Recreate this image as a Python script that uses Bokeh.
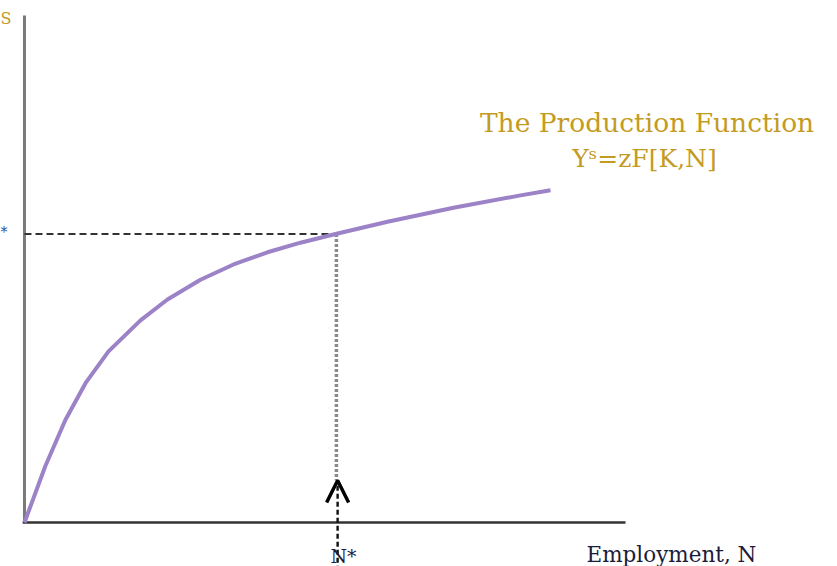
from bokeh.plotting import figure
from bokeh.models import Range1d, Arrow, OpenHead
from bokeh.core.properties import value
from bokeh.embed import file_html
from bokeh.resources import INLINE

# Production function curve, employment N vs output Y
curve_n = [0.000, 0.349, 0.682, 1.015, 1.398, 1.930, 2.379, 2.928, 3.478, 4.043,
           4.592, 5.175, 6.040, 7.138, 8.253, 8.752]
curve_y = [0.000, 1.118, 2.026, 2.748, 3.374, 3.986, 4.399, 4.789, 5.089, 5.330,
           5.519, 5.691, 5.933, 6.207, 6.452, 6.552]
n_star = 5.19
y_star = 5.69
x_axis_max = 10.0
y_axis_max = 10.0

p = figure(width=837, height=566, output_backend="svg", toolbar_location=None,
           x_range=Range1d(-0.399, 13.527), y_range=Range1d(-0.868, 10.296),
           x_axis_type=None, y_axis_type=None, min_border=0)
p.grid.visible = False
p.outline_line_color = None
p.background_fill_color = "white"

font = value("DejaVu Serif")

# axes drawn as lines
p.line([0, 0], [0, y_axis_max], line_color="#7a7a7a", line_width=3)
p.line([-0.03, x_axis_max], [0, 0], line_color="#333333", line_width=2.4)

# dashed guides
p.line([0, n_star], [y_star, y_star], line_color="#333333", line_width=2.2, line_dash="7 4")
p.line([n_star, n_star], [y_star, 0.83], line_color="#8a8a8a", line_width=3.5, line_dash="3 2")
p.line([n_star + 0.02, n_star + 0.02], [-0.95, 0.83], line_color="#111111", line_width=2.4, line_dash="5 3")

# arrow pointing up to N*
p.add_layout(Arrow(end=OpenHead(size=22, line_width=3.5, line_color="black"),
                   x_start=n_star + 0.02, y_start=0.2, x_end=n_star + 0.02, y_end=0.83,
                   line_width=0, line_alpha=0))

# production function
p.line(curve_n, curve_y, line_color="#9c82c6", line_width=4, line_join="round")

# labels
p.text(x=[10.358], y=[7.89], text=["The Production Function"], text_font=font,
       text_font_size="26.5px", text_color="#c49b22", text_align="center", text_baseline="alphabetic")
p.text(x=[10.316], y=[7.179], text=["Yˢ=zF[K,N]"], text_font=font,
       text_font_size="25px", text_color="#c49b22", text_align="center", text_baseline="alphabetic")
p.text(x=[9.351], y=[-0.63], text=["Employment, N"], text_font=font,
       text_font_size="21.5px", text_color="#1c1c3a", text_align="left", text_baseline="alphabetic")
p.text(x=[5.308], y=[-0.67], text=["N*"], text_font=font,
       text_font_size="19px", text_color="#1c1c3a", text_align="center", text_baseline="alphabetic")
p.text(x=[-0.399], y=[5.72], text=["*"], text_font=font,
       text_font_size="14px", text_color="#1f4fa0", text_align="left", text_baseline="alphabetic")
p.text(x=[-0.399], y=[9.941], text=["S"], text_font=font,
       text_font_size="16px", text_color="#c49b22", text_align="left", text_baseline="alphabetic")

open("out.html", "w").write(file_html(p, INLINE))
